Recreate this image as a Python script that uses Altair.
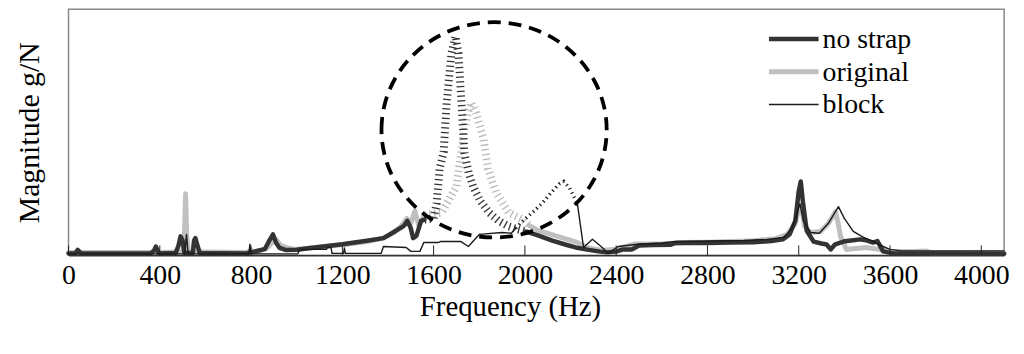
import altair as alt
import pandas as pd

# ---------------- data ----------------
series_names = ["no strap", "original", "block"]
series_colors = ["#333333", "#c0c0c0", "#1a1a1a"]
series_widths = [4.5, 5.0, 1.4]

tick_values = [0, 400, 800, 1200, 1600, 2000, 2400, 2800, 3200, 3600, 4000]

# no strap (dark, thick)
nostrap_f1 = [0, 30, 40, 55, 360, 375, 383, 395, 470, 482, 491, 500, 508, 545, 550, 556, 565, 575,
              780, 860, 880, 896, 910, 925, 950, 1000, 1060, 1135, 1200, 1300, 1380, 1426, 1470,
              1485, 1500, 1510, 1525, 1545, 1560]
nostrap_m1 = [0.8, 0.8, 2.2, 0.8, 0.8, 2.0, 3.6, 0.8, 1.0, 4.0, 7.7, 6.0, 1.0, 1.0, 6.0, 7.0, 4.0, 1.0,
              0.8, 2.5, 6.0, 8.5, 5.0, 3.0, 2.2, 2.3, 3.0, 3.8, 4.5, 5.8, 7.0, 9.5, 12.0,
              14.0, 11.0, 7.0, 8.0, 14.0, 14.5]
nostrap_hf = [1560, 1600, 1613, 1626, 1644, 1657, 1678, 1696, 1709, 1722, 1735, 1755, 1774, 1805,
              1844, 1885, 1930, 1970, 2004]
nostrap_hm = [14.5, 15.0, 21.0, 35.0, 42.0, 62.0, 82.0, 89.0, 82.0, 62.0, 41.5, 33.0, 27.8, 22.0,
              17.3, 14.0, 11.7, 10.5, 9.7]
nostrap_f2 = [2004, 2060, 2120, 2180, 2222, 2280, 2330, 2361, 2400, 2430, 2470, 2500, 2560, 2640,
              2660, 2800, 2900, 3000, 3080, 3130, 3160, 3185, 3200, 3209, 3218, 3235, 3265, 3300,
              3322, 3340, 3360, 3396, 3430, 3470, 3500, 3526, 3545, 3570, 3613, 3700, 4100]
nostrap_m2 = [9.7, 8.0, 6.0, 4.3, 3.2, 2.2, 1.5, 1.2, 1.5, 2.4, 2.4, 4.0, 4.2, 4.3,
              5.0, 5.0, 5.2, 5.3, 5.8, 6.5, 8.5, 14.0, 26.0, 30.0, 22.0, 10.0, 5.6, 4.8,
              4.4, 2.4, 4.5, 5.6, 6.0, 6.5, 6.0, 5.2, 5.8, 1.6, 0.8, 0.8, 0.6]

# original (light grey, thick)
original_f1 = [0, 370, 383, 395, 500, 508, 513, 518, 526, 780, 800, 820, 870, 890, 909, 930, 960,
               991, 1060, 1135, 1220, 1309, 1380, 1426, 1460, 1483, 1500, 1518, 1535, 1561]
original_m1 = [1.2, 1.2, 2.5, 1.2, 1.5, 8.0, 25.0, 8.0, 1.5, 1.2, 2.0, 1.2, 3.0, 5.0, 6.5, 4.0, 3.0,
               2.4, 3.0, 3.7, 4.5, 5.6, 7.0, 9.3, 12.0, 15.0, 13.0, 18.0, 12.0, 16.5]
original_hf = [1561, 1600, 1635, 1700, 1730, 1750, 1765, 1785, 1817, 1839, 1874, 1930, 1991, 2020]
original_hm = [16.5, 17.0, 17.3, 28.0, 48.0, 58.0, 62.0, 58.0, 48.0, 35.0, 25.4, 17.3, 14.5, 12.0]
original_f2 = [2020, 2061, 2150, 2222, 2280, 2340, 2400, 2440, 2480, 2600, 2700, 2800, 2900, 3000,
               3100, 3150, 3185, 3200, 3212, 3225, 3250, 3296, 3330, 3361, 3375, 3383, 3409, 3450,
               3496, 3550, 3600, 3700, 3757, 3780, 4100]
original_m2 = [12.0, 10.0, 7.5, 5.5, 3.0, 2.0, 2.5, 3.5, 4.6, 4.6, 5.2, 5.3, 5.6, 5.9,
               6.8, 8.5, 13.0, 19.0, 20.0, 12.0, 9.3, 9.7, 13.0, 17.7, 12.0, 7.7, 2.4, 2.8,
               3.2, 2.4, 1.6, 1.6, 1.8, 1.0, 1.0]

# block (black, thin)
block_f1 = [0, 510, 517, 524, 790, 795, 800, 1005, 1013, 1130, 1135, 1150, 1155, 1205, 1209, 1213,
            1370, 1380, 1480, 1500, 1540, 1557, 1620, 1630, 1720, 1752, 1800, 1900, 1940, 1960]
block_m1 = [0.6, 0.6, 8.5, 0.6, 0.6, 4.5, 0.6, 0.6, 2.4, 2.4, 3.2, 3.2, 0.8, 0.8, 3.0, 0.8,
            0.8, 3.6, 3.2, 1.6, 1.6, 5.2, 5.2, 5.6, 5.6, 3.6, 8.5, 9.3, 9.0, 11.0]
block_hf = [1960, 1991, 2040, 2078, 2120, 2150, 2170, 2195, 2230]
block_hm = [11.0, 14.0, 18.0, 21.4, 26.0, 29.0, 30.0, 27.5, 21.0]
block_f2 = [2230, 2257, 2296, 2339, 2365, 2409, 2483, 2600, 2660, 2800, 2960, 3060, 3135, 3170,
            3190, 3205, 3220, 3252, 3290, 3330, 3374, 3400, 3439, 3480, 3526, 3560, 3600, 3650,
            4100]
block_m2 = [21.0, 3.2, 6.5, 3.2, 0.8, 3.6, 4.4, 5.0, 5.6, 5.8, 6.0, 6.5, 7.3, 11.0,
            16.0, 21.0, 14.0, 9.3, 9.0, 13.0, 19.8, 15.0, 9.7, 7.5, 5.6, 4.0, 2.4, 1.8,
            1.8]

# dashed ellipse annotation around the resonance region
circle_f = [1865]
circle_m = [51]

FONT = "Liberation Serif, Times New Roman, serif"

# ---------------- build tables ----------------
def part(name, tag, f, m):
    return pd.DataFrame({"series": name, "part": tag, "freq": f, "mag": m})

solid = {
    "no strap": pd.concat([part("no strap", "a", nostrap_f1, nostrap_m1),
                           part("no strap", "b", nostrap_f2, nostrap_m2)]),
    "original": pd.concat([part("original", "a", original_f1, original_m1),
                           part("original", "b", original_f2, original_m2)]),
    "block": pd.concat([part("block", "a", block_f1, block_m1),
                        part("block", "b", block_f2, block_m2)]),
}
hashed = {
    "no strap": part("no strap", "h", nostrap_hf, nostrap_hm),
    "original": part("original", "h", original_hf, original_hm),
    "block": part("block", "h", block_hf, block_hm),
}
hash_style = {"no strap": ("#333333", 8.0), "original": ("#b8b8b8", 8.0), "block": ("#1a1a1a", 3.5)}

xscale = alt.Scale(domain=[0, 4100], nice=False, zero=False)
xenc = alt.X("freq:Q", scale=xscale,
             axis=alt.Axis(values=tick_values, format="d", title="Frequency (Hz)", ticks=False,
                           grid=False, labelPadding=6, labelFontSize=28, titleFontSize=29,
                           titleX=445, titleY=52, titleBaseline="middle",
                           domainColor="#333333", domainWidth=1.5, labelFlush=False))
yscale = alt.Scale(domain=[0, 100], nice=False, zero=True)
yenc_axis = alt.Y("mag:Q", scale=yscale,
                  axis=alt.Axis(title="Magnitude g/N", ticks=False, labels=False, grid=False,
                                domain=False, titleFontSize=30, titleX=-39, titleY=124,
                                titleBaseline="middle", titleAlign="center"))
yenc = alt.Y("mag:Q", scale=yscale, axis=None)

color = alt.Color("series:N", scale=alt.Scale(domain=series_names, range=series_colors), legend=None)
swidth = alt.StrokeWidth("series:N",
                         scale=alt.Scale(type="ordinal", domain=series_names, range=series_widths),
                         legend=None)

layers = []
first = True
for name in ["original", "no strap", "block"]:
    layers.append(
        alt.Chart(solid[name]).mark_line(strokeJoin="round", strokeCap="round").encode(
            x=xenc, y=(yenc_axis if first else yenc), color=color, strokeWidth=swidth,
            detail="part:N")
    )
    first = False
    c, w = hash_style[name]
    layers.append(
        alt.Chart(hashed[name]).mark_line(color=c, strokeWidth=w, strokeDash=[1.3, 3.5],
                                          strokeCap="butt").encode(x=xenc, y=yenc)
    )

circle = alt.Chart(pd.DataFrame({"freq": circle_f, "mag": circle_m})).mark_point(
    shape="M -1.046 0 A 1.046 1 0 1 1 1.046 0 A 1.046 1 0 1 1 -1.046 0 Z",
    size=217 * 217, filled=False, stroke="black", strokeWidth=3.8,
    strokeDash=[13, 8], opacity=1).encode(x=xenc, y=yenc)

ticks = alt.Chart(pd.DataFrame({"freq": tick_values})).mark_rule(
    color="#222222", strokeWidth=1).encode(x=xenc, y=alt.value(238), y2=alt.value(248))

# legend (inside the plot, top right)
legend_df = pd.DataFrame({"series": series_names})
legend_y = alt.Y("series:N", scale=alt.Scale(type="point", domain=series_names, range=[30, 96],
                                              padding=0), axis=None)
legend_lines = alt.Chart(legend_df).mark_rule(strokeCap="butt").encode(
    x=alt.value(706), x2=alt.value(756), y=legend_y, color=color, strokeWidth=swidth)
legend_text = alt.Chart(legend_df).mark_text(
    align="left", baseline="middle", font=FONT, fontSize=28, color="black", dy=1).encode(
    x=alt.value(760), y=legend_y, text="series:N")

chart = alt.layer(*layers, circle, ticks, legend_lines, legend_text).resolve_scale(
    y="independent"
).properties(
    width=943, height=248,
    autosize=alt.AutoSizeParams(type="none"),
    padding={"left": 61, "top": 0, "right": 12, "bottom": 78},
).configure_view(
    stroke="#888888", strokeWidth=1.5
).configure_axis(
    labelFont=FONT, titleFont=FONT,
    labelColor="black", titleColor="black", titleFontWeight="normal"
)

chart.save("out.html", embed_options={"renderer": "svg", "actions": False})
